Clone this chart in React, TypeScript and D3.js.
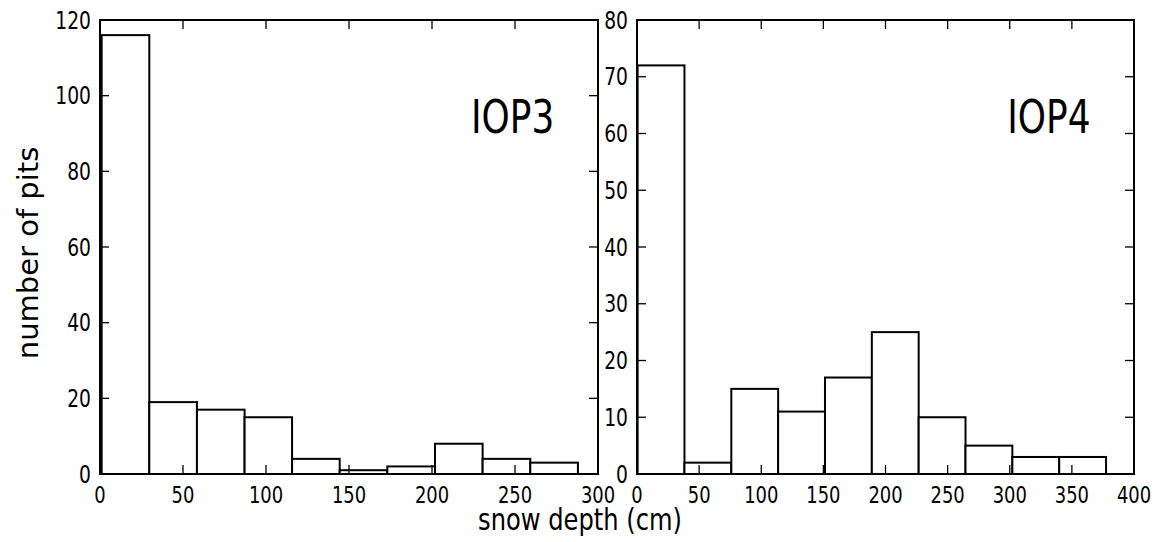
import React from "react";
import * as d3 from "d3";

// histogram bin edges (cm) and counts per panel
const iop3Edges = [1, 29.7, 58.4, 87.1, 115.7, 144.4, 173.1, 201.8, 230.5, 259.2, 287.9];
const iop3Counts = [116, 19, 17, 15, 4, 1, 2, 8, 4, 3];
const iop4Edges = [0.5, 38.2, 75.9, 113.6, 151.3, 189.0, 226.7, 264.4, 302.1, 339.8, 377.5];
const iop4Counts = [72, 2, 15, 11, 17, 25, 10, 5, 3, 3];

const iop3XTicks = [0, 50, 100, 150, 200, 250, 300];
const iop3YTicks = [0, 20, 40, 60, 80, 100, 120];
const iop4XTicks = [0, 50, 100, 150, 200, 250, 300, 350, 400];
const iop4YTicks = [0, 10, 20, 30, 40, 50, 60, 70, 80];

const W = 1159;
const H = 542;
const TOP = 20;
const BOTTOM = 474;
const FONT = "DejaVu Sans, Bitstream Vera Sans, sans-serif";
const SQ = 0.78; // horizontal squash of the lettering
const TICK = 9;

type PanelProps = {
  x0: number;
  x1: number;
  edges: number[];
  counts: number[];
  xTicks: number[];
  yTicks: number[];
  xMax: number;
  yMax: number;
  label: string;
};

function SqText({ x, y, size, anchor, children }: { x: number; y: number; size: number; anchor: string; children: React.ReactNode }) {
  return (
    <text
      transform={`translate(${x},${y}) scale(${SQ},1)`}
      fontSize={size}
      fontFamily={FONT}
      textAnchor={anchor}
      fill="#000"
    >
      {children}
    </text>
  );
}

function Panel({ x0, x1, edges, counts, xTicks, yTicks, xMax, yMax, label }: PanelProps) {
  const x = d3.scaleLinear().domain([0, xMax]).range([x0, x1]);
  const y = d3.scaleLinear().domain([0, yMax]).range([BOTTOM, TOP]);
  const bins = counts.map((c, i) => ({ a: edges[i], b: edges[i + 1], c }));

  return (
    <g>
      {bins.map((d, i) => (
        <rect
          key={i}
          x={x(d.a)}
          y={y(d.c)}
          width={x(d.b) - x(d.a)}
          height={y(0) - y(d.c)}
          fill="#fff"
          stroke="#000"
          strokeWidth={2}
        />
      ))}
      {/* ticks on all four sides, pointing inward */}
      {xTicks.map((t) => (
        <g key={"x" + t}>
          <line x1={x(t)} x2={x(t)} y1={BOTTOM} y2={BOTTOM - TICK} stroke="#000" strokeWidth={1.3} />
          <line x1={x(t)} x2={x(t)} y1={TOP} y2={TOP + TICK} stroke="#000" strokeWidth={1.3} />
          <SqText x={x(t)} y={BOTTOM + 29} size={23} anchor="middle">{t}</SqText>
        </g>
      ))}
      {yTicks.map((t) => (
        <g key={"y" + t}>
          <line x1={x0} x2={x0 + TICK} y1={y(t)} y2={y(t)} stroke="#000" strokeWidth={1.3} />
          <line x1={x1} x2={x1 - TICK} y1={y(t)} y2={y(t)} stroke="#000" strokeWidth={1.3} />
          <SqText x={x0 - 9} y={y(t) + 8.7} size={24} anchor="end">{t}</SqText>
        </g>
      ))}
      <rect x={x0} y={TOP} width={x1 - x0} height={BOTTOM - TOP} fill="none" stroke="#000" strokeWidth={2} />
      <SqText x={x0 + (x1 - x0) * 0.745} y={TOP + (BOTTOM - TOP) * 0.248} size={46} anchor="start">{label}</SqText>
    </g>
  );
}

export default function App() {
  return (
    <svg
      width={W}
      height={H}
      style={{ position: "fixed", left: 0, top: 0, display: "block", background: "#fff" }}
    >
      <rect width={W} height={H} fill="#fff" />
      <Panel x0={100} x1={598} edges={iop3Edges} counts={iop3Counts} xTicks={iop3XTicks} yTicks={iop3YTicks} xMax={300} yMax={120} label="IOP3" />
      <Panel x0={637} x1={1134} edges={iop4Edges} counts={iop4Counts} xTicks={iop4XTicks} yTicks={iop4YTicks} xMax={400} yMax={80} label="IOP4" />
      <text
        transform="translate(38,253) rotate(-90)"
        fontSize={29}
        fontFamily={FONT}
        textAnchor="middle"
        fill="#000"
      >
        number of pits
      </text>
      <SqText x={580} y={530} size={31} anchor="middle">snow depth (cm)</SqText>
    </svg>
  );
}
